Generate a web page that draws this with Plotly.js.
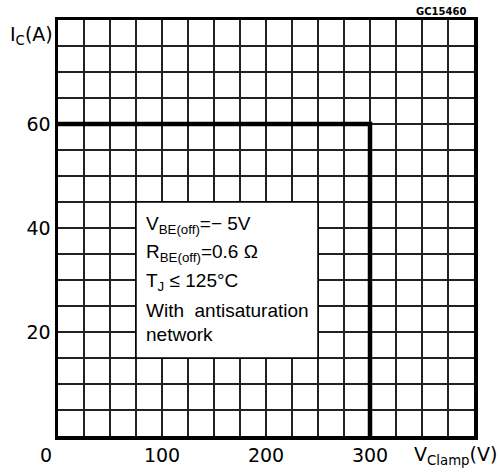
<!DOCTYPE html>
<html><head><meta charset="utf-8">
<script src="https://cdn.plot.ly/plotly-3.0.1.min.js"></script>
<style>body{margin:0;background:#fff}#g{width:500px;height:474px}</style>
</head><body><div id="g"></div>
<script>
// Data
const curveV = [0, 300, 300];      // V_clamp (V)
const curveI = [60, 60, 0];        // I_C (A)
const xTickVals = [100, 200, 300];
const yTickVals = [20, 40, 60];
const xRange = [0, 400];
const yRange = [0, 80];
const boxX = [75, 250];
const boxY = [15, 45];
const boxLines = [
  "V<sub>BE(off)</sub>=\u2212 5V",
  "R<sub>BE(off)</sub>=0.6 \u03A9",
  "T<sub>J</sub> \u2264 125\u00B0C",
  "With  antisaturation",
  "network"
];
const boxLineY = [40.5, 35.2, 29.6, 24.2, 19.6];

const tickFont = {family: "DejaVu Sans", size: 19, color: "#000"};
const boxFont = {family: "Liberation Sans", size: 19, color: "#000"};

const trace = {
  x: curveV, y: curveI, mode: "lines", type: "scatter",
  line: {color: "#000", width: 4.5, shape: "linear"},
  hoverinfo: "skip", cliponaxis: false
};

const annotations = boxLines.map((t, i) => ({
  xref: "x", yref: "y", x: boxX[0] + 8, y: boxLineY[i],
  xanchor: "left", yanchor: "middle", showarrow: false,
  text: t, font: boxFont
}));
annotations.push(
  {xref: "x", yref: "paper", x: 0, y: 0, xanchor: "right", yanchor: "top",
   xshift: -4, yshift: -6, showarrow: false, text: "0", font: tickFont},
  {xref: "paper", yref: "y", x: 0, y: 77, xanchor: "right", yanchor: "middle",
   xshift: -3, showarrow: false, text: "I<sub>C</sub>(A)", font: tickFont},
  {xref: "paper", yref: "paper", x: 1, y: 0, xanchor: "right", yanchor: "top",
   xshift: 25, yshift: -5, showarrow: false, text: "V<sub>Clamp</sub>(V)", font: tickFont},
  {xref: "paper", yref: "paper", x: 1, y: 1, xanchor: "right", yanchor: "bottom",
   xshift: -6, yshift: 1, showarrow: false, text: "<b>GC15460</b>",
   font: {family: "DejaVu Sans", size: 10, color: "#000"}}
);

const shapes = [
  {type: "rect", xref: "x", yref: "y", x0: boxX[0], x1: boxX[1], y0: boxY[0], y1: boxY[1],
   fillcolor: "#fff", line: {color: "#000", width: 1.5}, layer: "above"}
];

const gridStyle = {gridcolor: "#222", gridwidth: 1.3};
const layout = {
  width: 500, height: 474,
  margin: {l: 58, r: 26, t: 20, b: 38},
  paper_bgcolor: "#fff", plot_bgcolor: "#fff",
  showlegend: false,
  xaxis: Object.assign({
    range: xRange, tickmode: "array", tickvals: xTickVals, ticks: "",
    tickfont: tickFont, showgrid: true, zeroline: false,
    showline: true, mirror: true, linecolor: "#000", linewidth: 3.5,
    minor: {dtick: 25, tick0: 0, showgrid: true, gridcolor: "#222", gridwidth: 1.3, ticks: ""},
    fixedrange: true
  }, gridStyle),
  yaxis: Object.assign({
    range: yRange, tickmode: "array", tickvals: yTickVals, ticks: "",
    tickfont: tickFont, showgrid: true, zeroline: false,
    showline: true, mirror: true, linecolor: "#000", linewidth: 3.5,
    minor: {dtick: 5, tick0: 0, showgrid: true, gridcolor: "#222", gridwidth: 1.3, ticks: ""},
    fixedrange: true
  }, gridStyle),
  shapes: shapes,
  annotations: annotations
};

Plotly.newPlot("g", [trace], layout, {displayModeBar: false, staticPlot: true});
</script>
</body></html>
